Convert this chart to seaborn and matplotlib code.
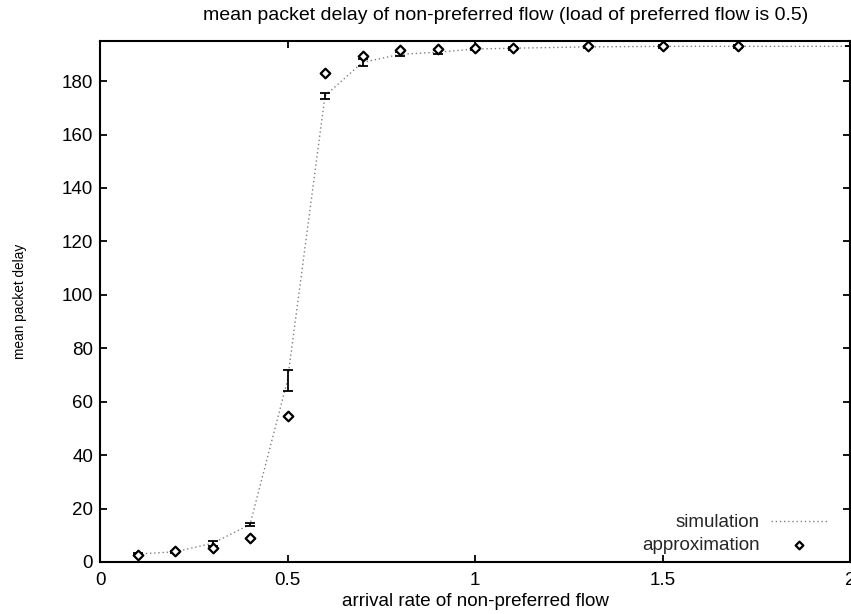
import matplotlib
matplotlib.use("Agg")
import matplotlib.pyplot as plt
import seaborn as sns
import pandas as pd

# simulation results (with confidence intervals)
sim_x = [0.1, 0.2, 0.3, 0.4, 0.5, 0.6, 0.7, 0.8, 0.9, 1.0, 1.1, 1.3, 1.5, 1.7, 2.0]
sim_y = [3.0, 3.8, 7.0, 14.0, 68.0, 174.5, 187.0, 190.0, 190.8, 192.0, 192.3, 192.8, 193.0, 193.0, 193.0]
sim_err = [0.3, 0.4, 1.0, 0.5, 4.0, 1.2, 1.2, 0.8, 0.8, 0.5, 0.5, 0.5, 0.5, 0.5, 0.0]

# approximation
apx_x = [0.1, 0.2, 0.3, 0.4, 0.5, 0.6, 0.7, 0.8, 0.9, 1.0, 1.1, 1.3, 1.5, 1.7]
apx_y = [2.8, 4.0, 5.3, 9.0, 54.5, 183.0, 189.5, 191.5, 192.0, 192.5, 192.5, 193.0, 193.0, 193.0]

title = "mean packet delay of non-preferred flow (load of preferred flow is 0.5)"
xlabel = "arrival rate of non-preferred flow"
ylabel = "mean packet delay"
xticks = [0, 0.5, 1, 1.5, 2]
xticklabels = ["0", "0.5", "1", "1.5", "2"]
yticks = [0, 20, 40, 60, 80, 100, 120, 140, 160, 180]

sns.set_theme(style="ticks")
plt.rcParams["font.family"] = ["Liberation Sans", "DejaVu Sans"]

sim = pd.DataFrame({"x": sim_x, "y": sim_y, "err": sim_err})
apx = pd.DataFrame({"x": apx_x, "y": apx_y})

fig = plt.figure(figsize=(8.51, 6.14), dpi=100)
ax = fig.add_axes([100 / 851, 52 / 614, 750 / 851, 521 / 614])

sns.lineplot(data=sim, x="x", y="y", ax=ax, color="0.5", linestyle=(0, (1, 2)),
             linewidth=1.0, label="simulation")
ax.errorbar(sim["x"], sim["y"], yerr=sim["err"], fmt="none", ecolor="black",
            elinewidth=1.3, capsize=3.5, capthick=1.3)
sns.scatterplot(data=apx, x="x", y="y", ax=ax, marker="D", s=24,
                facecolor="white", edgecolor="black", linewidth=1.6,
                label="approximation", zorder=5)

ax.set_xlim(0, 2)
ax.set_ylim(0, 195)
ax.set_xticks(xticks)
ax.set_xticklabels(xticklabels)
ax.set_yticks(yticks)
ax.tick_params(direction="in", length=5, width=1.3, top=True, right=True,
               labelsize=13.5, colors="black", pad=5)
ax.tick_params(axis="x", pad=7)
for s in ax.spines.values():
    s.set_linewidth(1.5)
    s.set_color("black")

ax.set_xlabel(xlabel, fontsize=13.5, labelpad=3, color="black")
ax.set_ylabel(ylabel, fontsize=9.8, labelpad=25, color="black")
ax.set_title(title, fontsize=14, pad=15, color="black", x=0.541)

leg = ax.legend(loc="lower right", bbox_to_anchor=(0.982, -0.003), frameon=False,
                markerfirst=False, fontsize=13.5,
                handlelength=3.0, handletextpad=0.6, labelspacing=0.3,
                borderaxespad=0.1, markerscale=0.8)
try:
    leg._legend_box.get_children()[1].get_children()[0].align = "right"
except Exception:
    pass

fig.savefig("out.png", dpi=100)
